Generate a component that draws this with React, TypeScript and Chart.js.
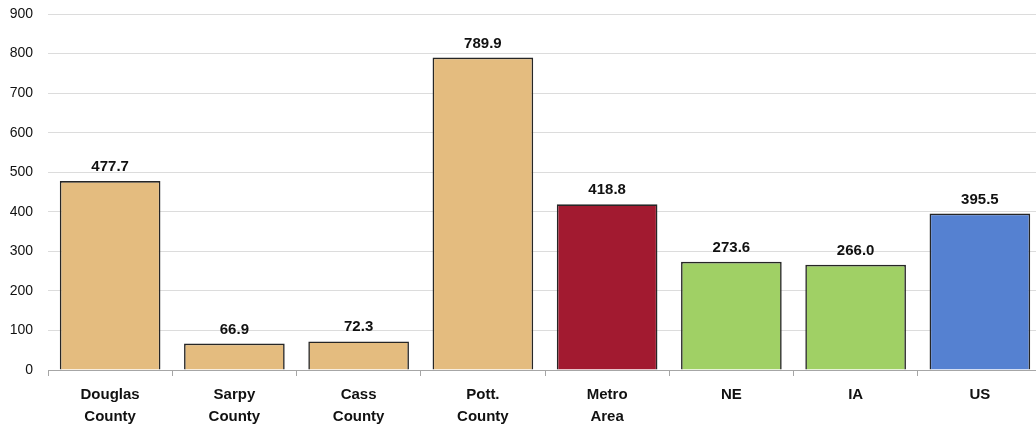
import React, { useEffect, useRef } from "react";
import { Chart, registerables } from "chart.js";

Chart.register(...registerables);

// Categories (two-line labels) and their values
const categories: string[][] = [
  ["Douglas", "County"],
  ["Sarpy", "County"],
  ["Cass", "County"],
  ["Pott.", "County"],
  ["Metro", "Area"],
  ["NE"],
  ["IA"],
  ["US"],
];
const values: number[] = [477.7, 66.9, 72.3, 789.9, 418.8, 273.6, 266.0, 395.5];
const barColors: string[] = [
  "#E4BC7F",
  "#E4BC7F",
  "#E4BC7F",
  "#E4BC7F",
  "#A21A30",
  "#A0D065",
  "#A0D065",
  "#5581D1",
];
const yTicks: number[] = [0, 100, 200, 300, 400, 500, 600, 700, 800, 900];

const FONT = "'Liberation Sans', Arial, sans-serif";

// Draws the value above each bar
const valueLabels = {
  id: "valueLabels",
  afterDatasetsDraw(chart: Chart) {
    const { ctx } = chart;
    const meta = chart.getDatasetMeta(0);
    ctx.save();
    ctx.font = `bold 15px ${FONT}`;
    ctx.fillStyle = "#111";
    ctx.textAlign = "center";
    ctx.textBaseline = "alphabetic";
    meta.data.forEach((bar: any, i: number) => {
      ctx.fillText(values[i].toFixed(1), bar.x, bar.y - 10);
    });
    ctx.restore();
  },
};

export default function App() {
  const ref = useRef<HTMLCanvasElement | null>(null);

  useEffect(() => {
    if (!ref.current) return;
    const chart = new Chart(ref.current, {
      type: "bar",
      data: {
        labels: categories,
        datasets: [
          {
            data: values,
            backgroundColor: barColors,
            borderColor: "#262626",
            borderWidth: 1.6,
            categoryPercentage: 1,
            barPercentage: 0.81,
          },
        ],
      },
      options: {
        animation: false,
        responsive: false,
        maintainAspectRatio: false,
        layout: { padding: { left: 0, right: 8, top: 14, bottom: 0 } },
        plugins: {
          legend: { display: false },
          tooltip: { enabled: false },
        },
        scales: {
          x: {
            grid: {
              display: true,
              drawOnChartArea: false,
              drawTicks: true,
              tickLength: 6,
              color: "#a6a6a6",
              offset: true,
            },
            border: { display: true, color: "#a6a6a6", width: 1 },
            ticks: {
              color: "#111",
              padding: 8,
              font: { family: FONT, size: 15, weight: "bold", lineHeight: "22px" },
              maxRotation: 0,
              autoSkip: false,
            },
            afterFit(scale: any) {
              scale.height = 60;
            },
          },
          y: {
            min: 0,
            max: 900,
            afterBuildTicks(scale: any) {
              scale.ticks = yTicks.map((v) => ({ value: v }));
            },
            grid: {
              color: (c: any) => (c.tick && c.tick.value === 0 ? "#a6a6a6" : "#dcdcdc"),
              drawTicks: false,
              lineWidth: 1,
            },
            border: { display: false },
            ticks: {
              color: "#111",
              padding: 15,
              font: { family: FONT, size: 14 },
            },
            afterFit(scale: any) {
              scale.width = 48;
              scale.paddingTop = 8;
              scale.paddingBottom = 8;
            },
          },
        },
      },
      plugins: [valueLabels],
    });
    return () => chart.destroy();
  }, []);

  return (
    <div
      style={{
        position: "fixed",
        left: 0,
        top: 0,
        width: 1036,
        height: 430,
        overflow: "hidden",
        background: "#fff",
      }}
    >
      <canvas ref={ref} width={1050} height={430} style={{ display: "block" }} />
    </div>
  );
}
